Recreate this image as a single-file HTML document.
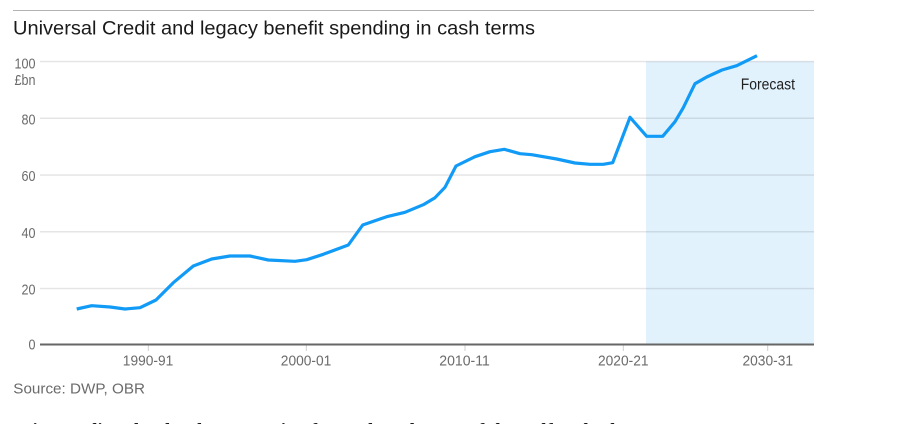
<!DOCTYPE html>
<html>
<head>
<meta charset="utf-8">
<style>
  html,body{margin:0;padding:0;background:#fff;}
  body{width:901px;height:424px;overflow:hidden;}
  svg{display:block;}
</style>
</head>
<body>
<svg width="901" height="424" viewBox="0 0 901 424" xmlns="http://www.w3.org/2000/svg">
  <!-- top rule -->
  <rect x="13" y="10" width="801" height="1" fill="#b3b3b3"/>
  <!-- title -->
  <text x="13" y="34.3" font-family="Liberation Sans, sans-serif" font-size="19.5" fill="#1a1a1a" textLength="522" lengthAdjust="spacingAndGlyphs">Universal Credit and legacy benefit spending in cash terms</text>

  <!-- forecast shading -->
  <rect x="646" y="61.5" width="168" height="283" fill="#e2f2fd"/>

  <!-- gridlines -->
  <g fill="rgba(0,0,0,0.1)">
    <rect x="40" y="60.8" width="774" height="1.5"/>
    <rect x="40" y="117.5" width="774" height="1.5"/>
    <rect x="40" y="174.3" width="774" height="1.5"/>
    <rect x="40" y="231" width="774" height="1.5"/>
    <rect x="40" y="287.8" width="774" height="1.5"/>
  </g>

  <!-- x ticks -->
  <g fill="#cfcfcf">
    <rect x="147.8" y="345" width="1" height="6"/>
    <rect x="305.8" y="345" width="1" height="6"/>
    <rect x="464.5" y="345" width="1" height="6"/>
    <rect x="622.8" y="345" width="1" height="6"/>
    <rect x="767.2" y="345" width="1" height="6"/>
  </g>

  <!-- axis line -->
  <rect x="40" y="343.5" width="774" height="2" fill="#666"/>

  <!-- y labels -->
  <g font-family="Liberation Sans, sans-serif" font-size="14.5" fill="#6b6b6b" text-anchor="end">
    <text x="35.5" y="68.3" textLength="21" lengthAdjust="spacingAndGlyphs">100</text>
    <text x="35.5" y="85" textLength="21" lengthAdjust="spacingAndGlyphs">£bn</text>
    <text x="35.5" y="124.3" textLength="14" lengthAdjust="spacingAndGlyphs">80</text>
    <text x="35.5" y="181" textLength="14" lengthAdjust="spacingAndGlyphs">60</text>
    <text x="35.5" y="237.8" textLength="14" lengthAdjust="spacingAndGlyphs">40</text>
    <text x="35.5" y="294.5" textLength="14" lengthAdjust="spacingAndGlyphs">20</text>
    <text x="35.5" y="349.5" textLength="7" lengthAdjust="spacingAndGlyphs">0</text>
  </g>

  <!-- x labels -->
  <g font-family="Liberation Sans, sans-serif" font-size="14.5" fill="#6b6b6b">
    <text x="122.8" y="365.7" textLength="50.5" lengthAdjust="spacingAndGlyphs">1990-91</text>
    <text x="280.8" y="365.7" textLength="50.5" lengthAdjust="spacingAndGlyphs">2000-01</text>
    <text x="439.3" y="365.7" textLength="50.5" lengthAdjust="spacingAndGlyphs">2010-11</text>
    <text x="598" y="365.7" textLength="50.5" lengthAdjust="spacingAndGlyphs">2020-21</text>
    <text x="742.5" y="365.7" textLength="50.5" lengthAdjust="spacingAndGlyphs">2030-31</text>
  </g>

  <!-- forecast label -->
  <text x="740.7" y="89.5" font-family="Liberation Sans, sans-serif" font-size="15.5" fill="#1f1f1f" textLength="54.3" lengthAdjust="spacingAndGlyphs">Forecast</text>

  <!-- series -->
  <polyline fill="none" stroke="#129bf6" stroke-width="3.2" stroke-linejoin="round" stroke-linecap="butt"
    points="76.7,309 91.7,305.7 110,307 125,309 140,307.7 156,300 173.3,282.7 193.3,266 211.7,259 230,256 250,256 268.3,260 295,261.3 306.7,259.7 323.3,254.3 348.3,245 362.7,225 386.7,216.7 405,212.3 423.3,204.7 435,197.7 445,187.3 456,166 475,156.7 490,151.7 504.3,149.3 520,153.7 531.7,154.7 556.7,159 575,163 590,164.3 603.3,164.3 612.7,162.7 630,117.3 646.7,136.3 662.7,136.3 675,121.7 683.3,107.7 695,83.7 706.7,77 722,70 736.7,65.7 757,55.7"/>

  <!-- source -->
  <text x="13.3" y="393.7" font-family="Liberation Sans, sans-serif" font-size="14.5" fill="#6b6b6b" textLength="131.7" lengthAdjust="spacingAndGlyphs">Source: DWP, OBR</text>

  <!-- cut-off body text -->
  <text x="14" y="436.5" font-family="Liberation Serif, serif" font-weight="bold" font-size="19" fill="#1a1a1a">It is spending that has been growing faster than the rest of the welfare budget</text>
</svg>
</body>
</html>
